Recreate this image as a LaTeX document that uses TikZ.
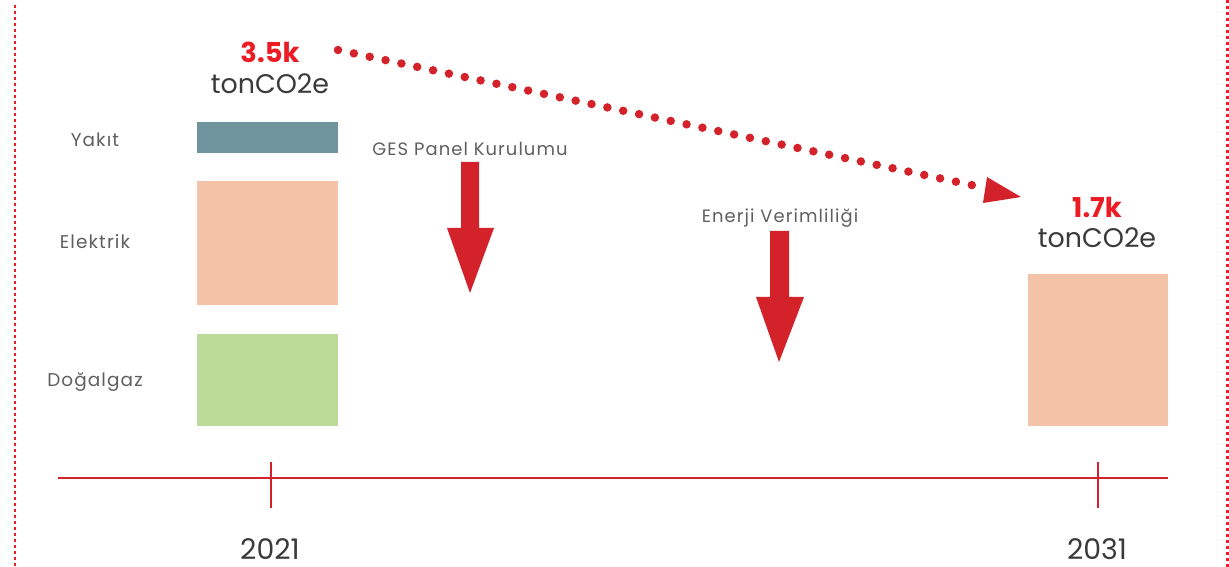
\documentclass[tikz,border=0pt]{standalone}
\usepackage{fontspec}
\setmainfont{Poppins}
\newfontfamily\spacedfont[LetterSpace=6]{Poppins}
\definecolor{cred}{HTML}{D3222A}
\definecolor{tred}{HTML}{EC1C24}
\definecolor{tgrey}{HTML}{5F5F5F}
\definecolor{tdark}{HTML}{3A3A3A}
\definecolor{cyak}{HTML}{6F949E}
\definecolor{cele}{HTML}{F4C3A7}
\definecolor{cdog}{HTML}{BCDB99}
\begin{document}
\begin{tikzpicture}[x=1bp,y=-1bp,
  bar/.style={draw=none,inner sep=0pt,minimum width=141bp},
  cat/.style={text=tgrey,font=\spacedfont\fontsize{18.5}{22}\selectfont,inner sep=0pt},
  big/.style={text=tred,font=\fontsize{27.5}{32}\selectfont\bfseries,inner sep=0pt},
  unit/.style={text=tdark,font=\fontsize{27}{32}\selectfont,inner sep=0pt},
  year/.style={text=tdark,font=\fontsize{28.5}{34}\selectfont,inner sep=0pt},
  steplbl/.style={text=tgrey,font=\spacedfont\fontsize{18}{22}\selectfont,inner sep=0pt},
  border/.style={tred,line width=2.6bp,dash pattern=on 2.6bp off 3.4bp},
  axis/.style={cred,line width=2.6bp}]
\useasboundingbox (0,0) rectangle (1229,567);
% borders
\draw[border] (15,5) -- (15,567);
\draw[border] (1227.5,0) -- (1227.5,567);
% bars
\node[bar,fill=cyak,minimum height=31bp] (yakit) at (267.5,137.5) {};
\node[bar,fill=cele,minimum height=124bp] (elek) at (267.5,243) {};
\node[bar,fill=cdog,minimum height=92bp] (dog) at (267.5,380) {};
\node[bar,fill=cele,minimum height=152bp,minimum width=140bp] (fut) at (1098,350) {};
% category labels
\node[cat] (lyak) at (95,140) {Yakıt};
\node[cat] (lele) at (95,242) {Elektrik};
\node[cat] (ldog) at (95,382) {Doğalgaz};
% totals
\node[big] (t1) at (270,52) {3.5k};
\node[unit] (u1) at (270,84) {tonCO2e};
\node[big] (t2) at (1097,207) {1.7k};
\node[unit] (u2) at (1097,238) {tonCO2e};
% timeline
\coordinate (al) at (58,478);
\coordinate (ar) at (1168,478);
\draw[axis] (al) -- (ar);
\coordinate (k1t) at (271,462); \coordinate (k1b) at (271,508);
\coordinate (k2t) at (1098,462); \coordinate (k2b) at (1098,508);
\draw[axis] (k1t) -- (k1b);
\draw[axis] (k2t) -- (k2b);
\node[year] (y1) at (270,549) {2021};
\node[year] (y2) at (1097,549) {2031};
% dotted arrow
\coordinate (ds) at (338,50);
\coordinate (de) at (976,186);
\draw[cred,line width=8.5bp,line cap=round,dash pattern=on 0bp off 16.2bp] (ds) -- (de);
\fill[cred] (987,177) -- (1021,197) -- (983,203) -- cycle;
% step arrows
\node[steplbl] (g1) at (470,149) {GES Panel Kurulumu};
\fill[cred] (461,162) -- (479,162) -- (479,228) -- (494,228) -- (470,293) -- (447,228) -- (461,228) -- cycle;
\node[steplbl] (g2) at (780,218) {Enerji Verimliliği};
\fill[cred] (770,231) -- (789,231) -- (789,297) -- (804,297) -- (779,362) -- (756,297) -- (770,297) -- cycle;
\end{tikzpicture}
\end{document}
